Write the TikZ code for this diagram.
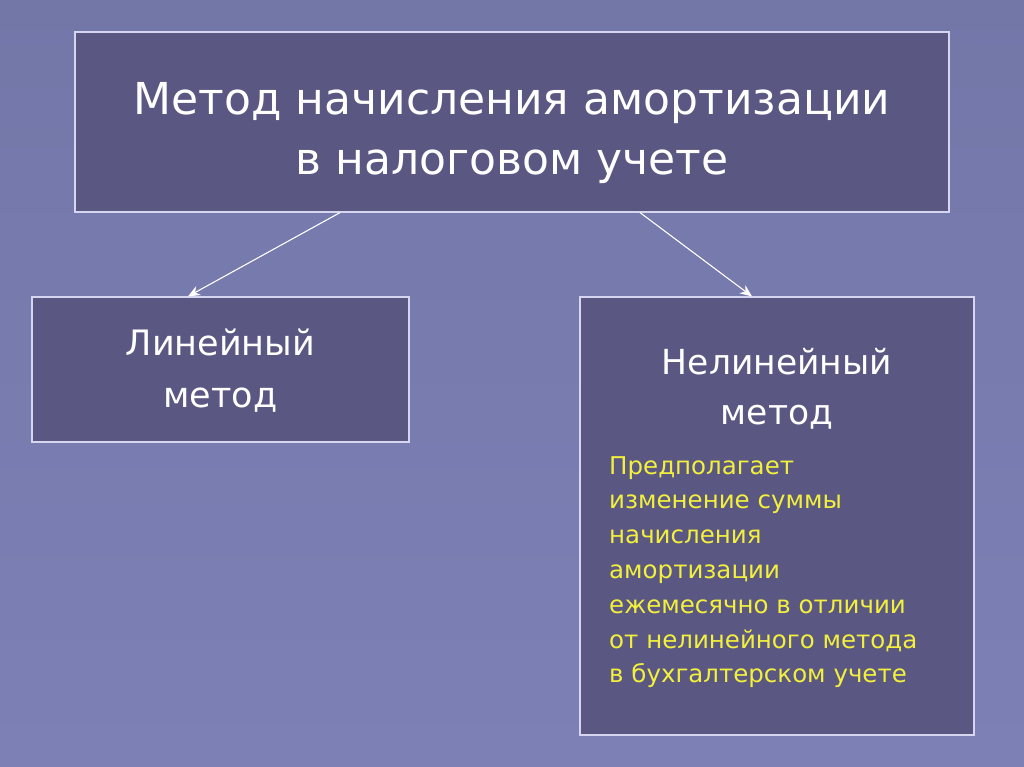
\documentclass[tikz,border=0pt]{standalone}
\usepackage{fontspec}
\setmainfont{DejaVu Sans}
\usetikzlibrary{positioning,arrows.meta}
\definecolor{bgtop}{HTML}{7377A8}
\definecolor{bgbot}{HTML}{7D80B5}
\definecolor{boxfill}{HTML}{5A5782}
\definecolor{boxline}{HTML}{D6D6F0}
\definecolor{notetext}{HTML}{F2F03C}
\begin{document}
\begin{tikzpicture}
  [x=1pt,y=-1pt,
   block/.style={draw=boxline,line width=1.2pt,fill=boxfill,inner sep=0pt},
   blocktext/.style={text=white,align=center,inner sep=0pt},
   link/.style={draw=white,line width=1.1pt,-{Stealth[length=12pt,width=10pt]}}]

  \fill[top color=bgtop,bottom color=bgbot] (0,0) rectangle (1024,767);
  \useasboundingbox (0,0) rectangle (1024,767);

  % boxes
  \node[block,minimum width=874pt,minimum height=180pt] (title) at (512,122) {};
  \node[block,minimum width=377pt,minimum height=145pt] (linear) at (220.5,369.5) {};
  \node[block,minimum width=394pt,minimum height=438pt] (nonlin) at (777,516) {};

  % texts
  \node[blocktext,font=\fontsize{44}{60}\selectfont] (titletext)
    at ([yshift=-11pt]title.center) {Метод начисления амортизации\\в налоговом учете};
  \node[blocktext,font=\fontsize{35}{52}\selectfont] (lintext)
    at ([yshift=-1pt]linear.center) {Линейный\\метод};
  \node[blocktext,font=\fontsize{34.5}{50}\selectfont,
        below=52pt of nonlin.north] (nltext) {Нелинейный\\метод};
  \node[text=notetext,align=left,anchor=north west,inner sep=0pt,
        font=\fontsize{24.5}{34.8}\selectfont] (nlnote) at (609,456)
    {Предполагает\\изменение суммы\\начисления\\амортизации\\ежемесячно в отличии\\от нелинейного метода\\в бухгалтерском учете};

  \draw[link] ([xshift=-172pt]title.south) -- ([xshift=-32.5pt]linear.north);
  \draw[link] ([xshift=128pt]title.south) -- ([xshift=-25pt]nonlin.north);

\end{tikzpicture}
\end{document}
